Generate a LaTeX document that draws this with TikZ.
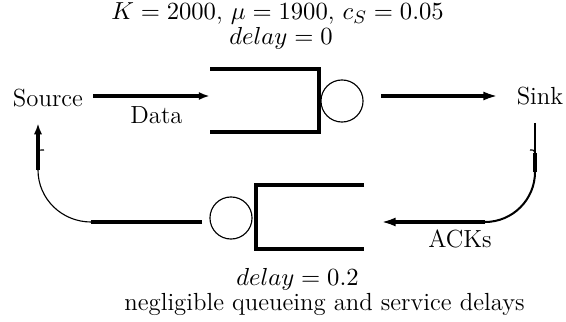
\documentclass[tikz,border=0pt]{standalone}
\usetikzlibrary{arrows.meta}
\begin{document}
\begin{tikzpicture}[x=0.4444pt,y=-0.4444pt,
  every node/.style={font=\fontsize{11}{13.2}\selectfont},
  buffer/.style={line width=1.35pt},
  server/.style={circle,draw,line width=0.5pt,minimum size=18.7pt,inner sep=0pt},
  flow/.style={line width=1.35pt},
  ret/.style={line width=0.5pt},
  retthick/.style={line width=0.9pt},
  lbl/.style={inner sep=0pt,anchor=base},
  head/.style={-{Latex[length=5pt,width=3.6pt]}},
  bighead/.style={-{Latex[length=6.5pt,width=4pt]}}]
\useasboundingbox (0,0) rectangle (566,322);

% end points
\node[lbl] (src) at (48,107) {Source};
\node[lbl] (sink) at (540,105) {Sink};

% forward buffer and server
\coordinate (qA) at (210,69);
\coordinate (qB) at (319,132);
\draw[buffer] (qA) -- (qA -| qB) -- (qB) -- (qB -| qA);
\node[server] (srvA) at (342,101) {};

% backward buffer and server
\coordinate (rA) at (364,185);
\coordinate (rB) at (256,249);
\draw[buffer] (rA) -- (rA -| rB) -- (rB) -- (rB -| rA);
\node[server] (srvB) at (231,218) {};

% forward flow
\coordinate (dIn) at (93,96);
\coordinate (dOut) at (210,96);
\draw[flow,head] (dIn) -- (dOut);
\node[lbl] (data) at (156.5,124) {Data};
\coordinate (sOut) at (381,96);
\coordinate (sIn) at (498,96);
\draw[flow,bighead] (sOut) -- (sIn);

% ACK return path, right side
\coordinate (k1) at (535,123);
\coordinate (k2) at (535,153);
\coordinate (k3) at (535,172);
\coordinate (k4) at (485,222);
\coordinate (k5) at (381,222);
\draw[retthick] (k1) -- (k2);
\draw[ret] (k2) .. controls (534,150) .. (530,150);
\draw[flow] (k2) -- (k3);
\draw[retthick] (k3) .. controls (535,199.6) and (512.6,222) .. (k4);
\draw[flow,bighead] (k4) -- (k5);
\node[lbl] (acks) at (460,248) {ACKs};

% ACK return path, left side
\coordinate (m1) at (202,222);
\coordinate (m2) at (91,222);
\coordinate (m3) at (38,170);
\coordinate (m4) at (38,152);
\coordinate (m5) at (38,123);
\draw[flow] (m1) -- (m2);
\draw[ret] (m2) .. controls (62,222) and (38,199) .. (m3);
\draw[flow] (m3) -- (m4);
\draw[ret] (m4) .. controls (39,150) .. (44,150);
\draw[flow,head] (m4) -- (m5);

% parameters
\node[lbl] (par) at (277.5,20) {$K=2000$, $\mu=1900$, $c_S=0.05$};
\node[lbl] (dly) at (281,45) {$delay=0$};
\node[lbl] (dlyb) at (297.5,285) {$delay=0.2$};
\node[lbl] (neg) at (324.5,310) {negligible queueing and service delays};
\end{tikzpicture}
\end{document}
